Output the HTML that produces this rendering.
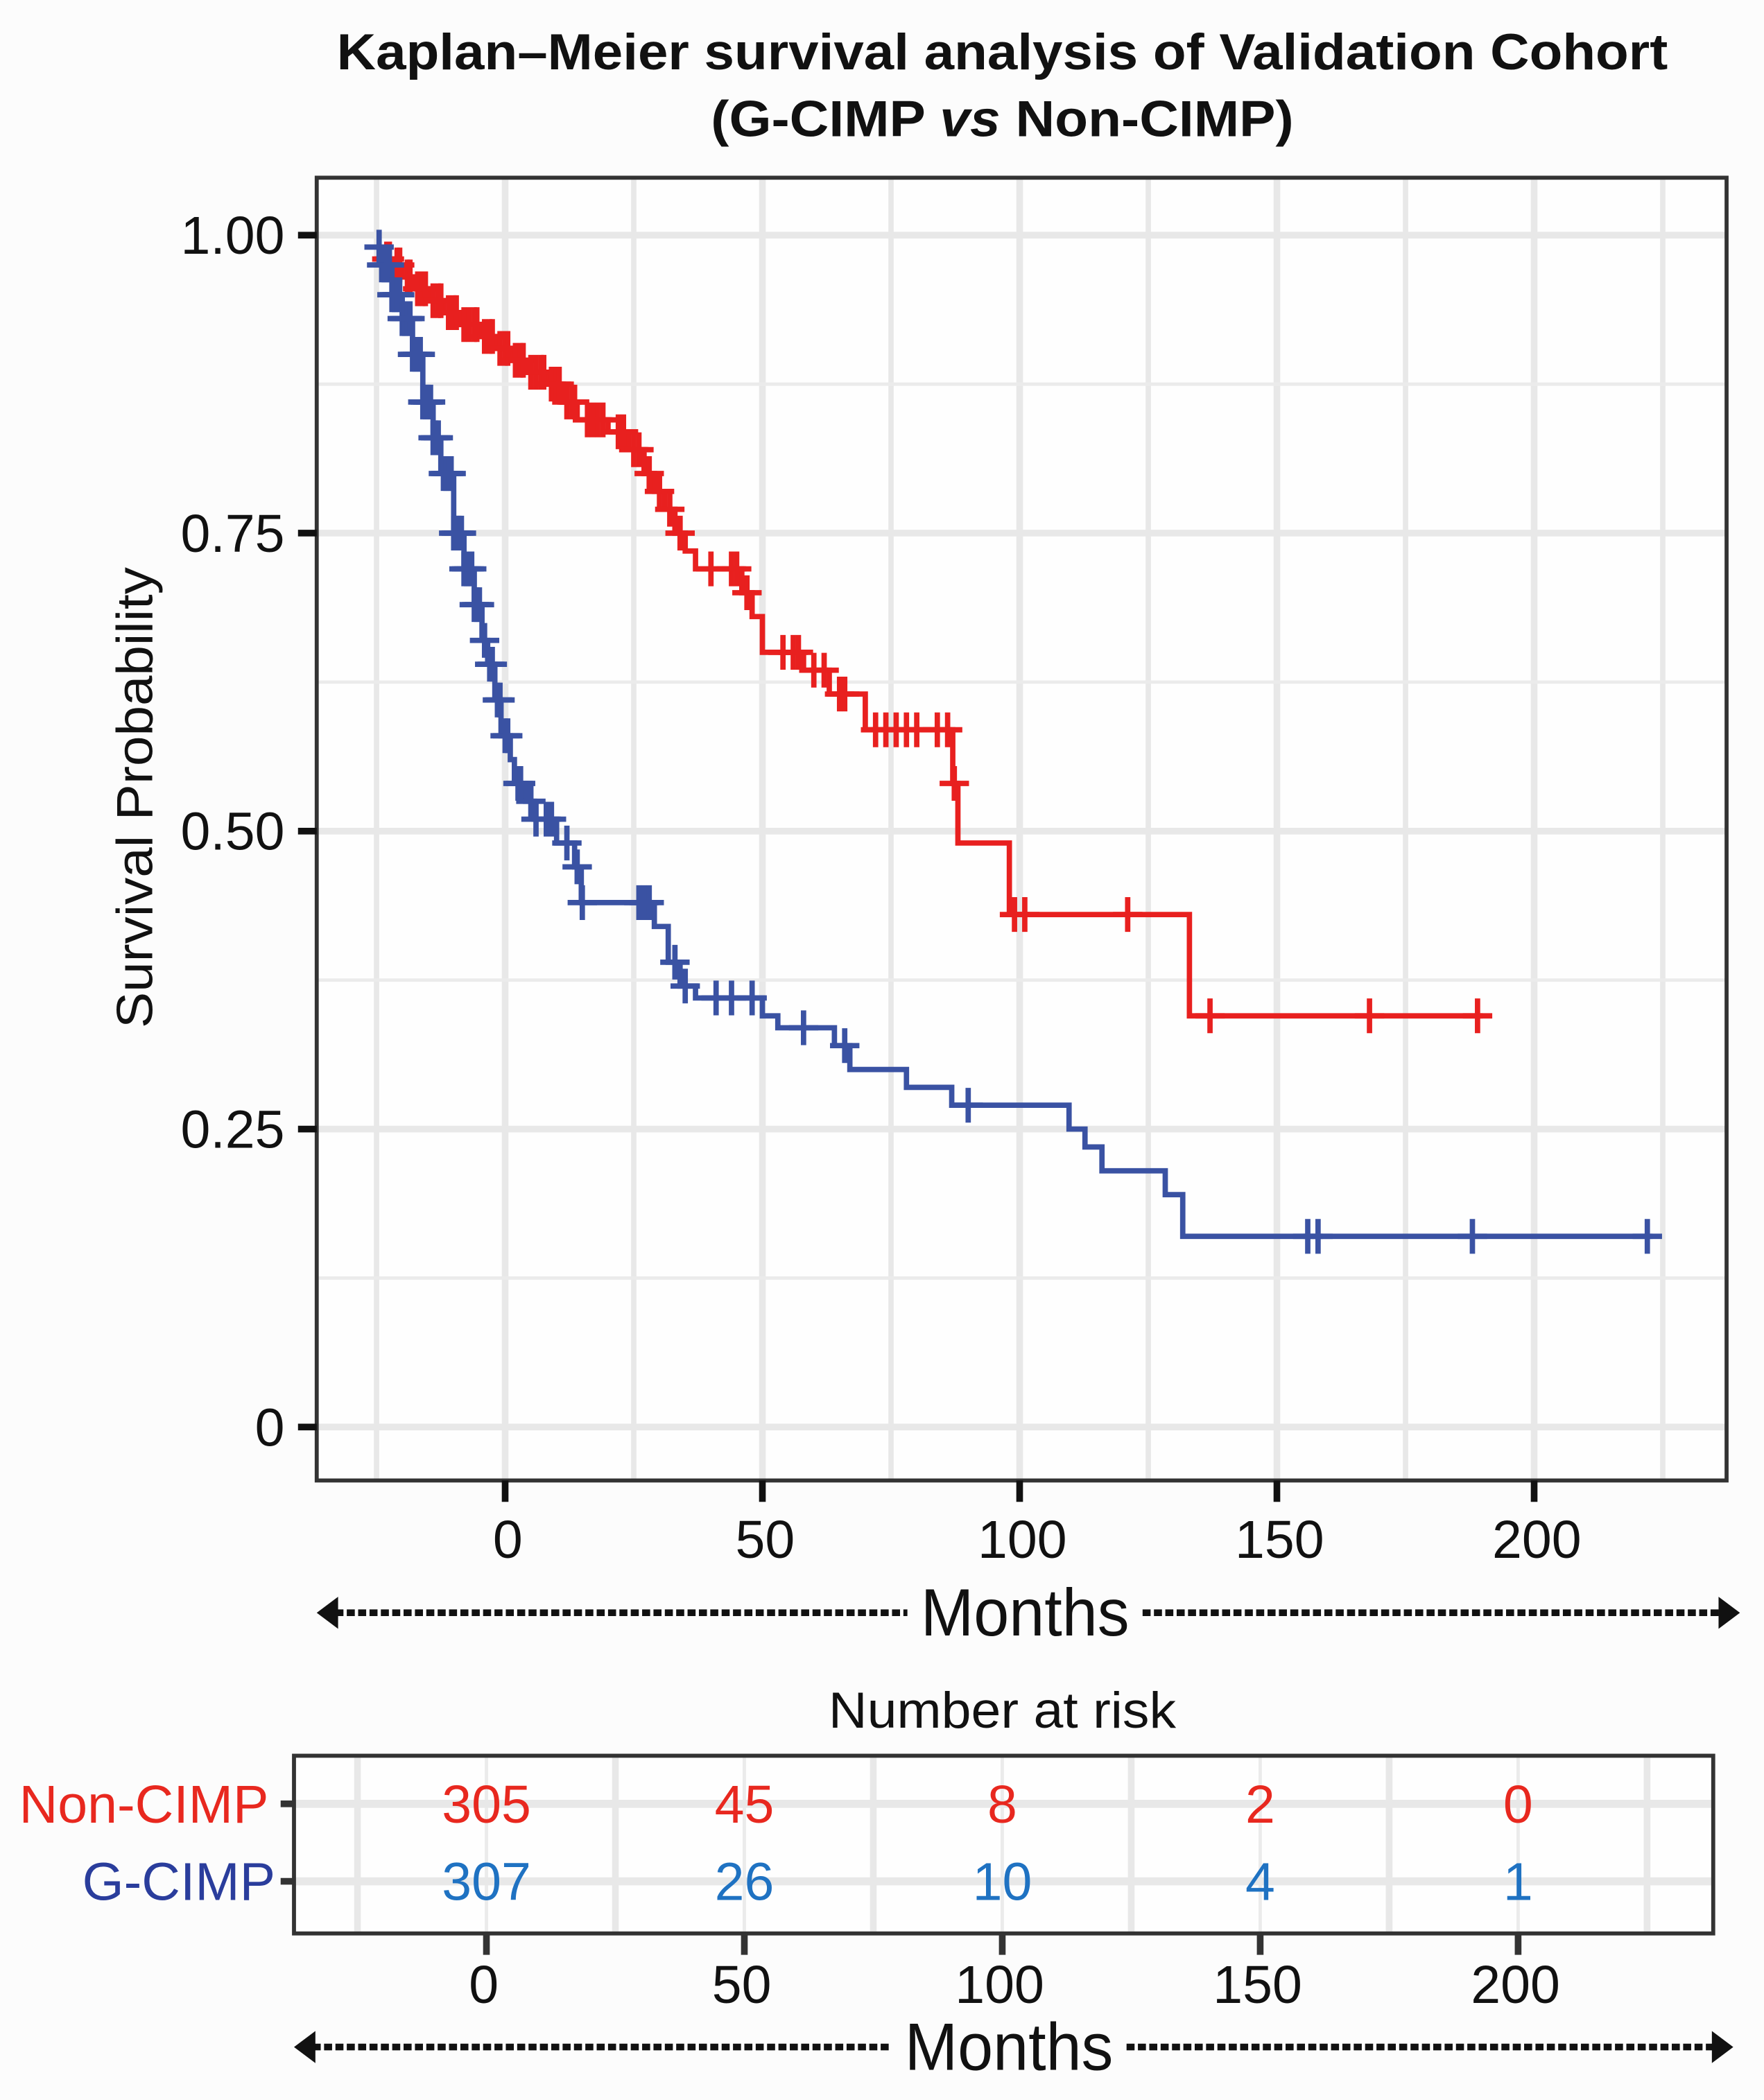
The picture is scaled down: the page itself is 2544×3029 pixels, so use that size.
<!DOCTYPE html>
<html><head><meta charset="utf-8"><style>
html,body{margin:0;padding:0;background:#fcfcfc;}
svg{display:block;font-family:"Liberation Sans",Arial,sans-serif;}
</style></head><body>
<svg id="chart" width="2544" height="3029" viewBox="0 0 1320 1571.65" xmlns="http://www.w3.org/2000/svg">
<rect x="0" y="0" width="1320" height="1572" fill="#fcfcfc"/>
<text x="750" y="52" text-anchor="middle" font-weight="bold" font-size="38" textLength="996" lengthAdjust="spacingAndGlyphs" fill="#111">Kaplan–Meier survival analysis of Validation Cohort</text>
<text x="750" y="102" text-anchor="middle" font-weight="bold" font-size="38" textLength="436" lengthAdjust="spacingAndGlyphs" fill="#111">(G-CIMP <tspan font-style="italic">vs</tspan> Non-CIMP)</text>
<g id="plot"></g>
<g id="risk"></g>
</svg>
<script>
// ---- data ----
const xTicks = [0, 50, 100, 150, 200];
const yTicks = [0, 0.25, 0.5, 0.75, 1.0];
const yTickLabels = ["0", "0.25", "0.50", "0.75", "1.00"];
const nonTimes = [-25,-24,-22,-20,-18,-15,-12,-9,-5,-2,1,4,8,11,14,20,24,27,29,31,33,35,37,46,48,50,58,63,70,87,88,98,133];
const nonSurv  = [0.985,0.98,0.975,0.965,0.955,0.945,0.935,0.925,0.915,0.905,0.895,0.885,0.875,0.86,0.845,0.835,0.82,0.80,0.785,0.77,0.75,0.735,0.72,0.70,0.68,0.65,0.635,0.615,0.585,0.54,0.49,0.43,0.345];
const nonEnd = 190;
const nonCensor = [-23,-22.5,-21,-20.5,-19,-18.5,-17,-16,-15.5,-14,-13,-12.5,-11,-10,-9.5,-8,-7,-6,-5.5,-4,-3,-2.5,-1,0,0.5,2,3,3.5,5,6,7,7.5,9,10,10.5,12,13,13.5,16,17,18,19,22,23,25,26,28,30,32,34,40,44,45,47,54,56,57,60,62,65,66,72,74,76,78,80,84,86,87.3,99,101,121,137,168,189];
const gTimes = [-25,-24,-22,-20,-18,-16,-14,-12.5,-10,-8,-6,-4.5,-3.4,-2,-0.8,1,1.8,4,5.7,10,13.5,14.8,29,31.7,34,37,50,53,64,67,78,86.8,109.6,112.7,116,128.3,131.7];
const gSurv  = [0.99,0.975,0.95,0.93,0.90,0.86,0.83,0.80,0.75,0.72,0.69,0.66,0.64,0.61,0.58,0.56,0.54,0.525,0.51,0.49,0.47,0.44,0.42,0.39,0.37,0.36,0.345,0.335,0.32,0.30,0.285,0.27,0.25,0.235,0.215,0.195,0.16];
const gEnd = 223;
const gCensor = [-24.5,-24,-23.5,-23,-22.5,-22,-21.5,-21,-20.5,-20,-19.5,-19,-18.5,-18,-17.5,-17,-16.5,-16,-15.5,-15,-14.5,-14,-13.5,-13,-12,-11.5,-11,-10.5,-10,-9.5,-9,-8.5,-8,-7.5,-7,-6.5,-6,-5.5,-5,-4,-3,-2.5,-1.5,-1,0,0.5,2.5,3,5,6,8,9,12,14,15,26,27,28,33,35,41,44,48,58,66,90,156,158,188,222];
const riskNon = [305, 45, 8, 2, 0];
const riskG = [307, 26, 10, 4, 1];
const groupNames = ["Non-CIMP", "G-CIMP"];

// ---- scales ----
const P = {l:237, t:133, r:1292, b:1108};
const xS = m => 378 + m * 3.85;
const yS = p => 1068 - p * 892;
const rX = m => 364 + m * 3.86;
const NS = "http://www.w3.org/2000/svg";
function mk(tag, attrs, parent, txt){
  const e = document.createElementNS(NS, tag);
  for (const k in attrs) e.setAttribute(k, attrs[k]);
  if (txt !== undefined) e.textContent = txt;
  parent.appendChild(e);
  return e;
}
const plot = document.getElementById('plot');
const risk = document.getElementById('risk');

let panel = mk('rect', {x:P.l, y:P.t, width:P.r-P.l, height:P.b-P.t, fill:'#fefefe'}, plot);


[-25,25,75,125,175,225].forEach(m => {
  const g = mk('line', {x1:xS(m), x2:xS(m), y1:P.t, y2:P.b, stroke:'#e8e8e8', 'stroke-width':4}, plot);
  
  
});
xTicks.forEach(m => {
  const g = mk('line', {x1:xS(m), x2:xS(m), y1:P.t, y2:P.b, stroke:'#e8e8e8', 'stroke-width':5}, plot);
  
  
});
[0.125,0.375,0.625,0.875].forEach(p => {
  const g = mk('line', {x1:P.l, x2:P.r, y1:yS(p), y2:yS(p), stroke:'#ebebeb', 'stroke-width':2.5}, plot);
  
  
});
yTicks.forEach(p => {
  const g = mk('line', {x1:P.l, x2:P.r, y1:yS(p), y2:yS(p), stroke:'#e8e8e8', 'stroke-width':5}, plot);
  
  
});

function stepPath(times, surv, end){
  let d = 'M' + xS(times[0]) + ',' + yS(surv[0]);
  for (let i = 1; i < times.length; i++){
    d += ' H' + xS(times[i]) + ' V' + yS(surv[i]);
  }
  d += ' H' + xS(end);
  return d;
}
function survAt(times, surv, t){
  let s = surv[0];
  for (let i = 0; i < times.length; i++) if (times[i] <= t) s = surv[i];
  return s;
}
function drawCurve(times, surv, end, cens, color, name){
  const p = mk('path', {d:stepPath(times, surv, end), fill:'none', stroke:color, 'stroke-width':4}, plot);
  
  
  cens.forEach(t => {
    const x = xS(t), y = yS(survAt(times, surv, t));
    const c = mk('path', {d:`M${x-11},${y} H${x+11} M${x},${y-13} V${y+13}`, stroke:color, 'stroke-width':4, fill:'none'}, plot);
    
    
  });
}
drawCurve(nonTimes, nonSurv, nonEnd, nonCensor, '#e8201f', 'non-cimp');
drawCurve(gTimes, gSurv, gEnd, gCensor, '#3a52a3', 'g-cimp');

let border = mk('rect', {x:P.l, y:P.t, width:P.r-P.l, height:P.b-P.t, fill:'none', stroke:'#333', 'stroke-width':3}, plot);



yTicks.forEach((p, i) => {
  const tk = mk('line', {x1:P.l-14, x2:P.l, y1:yS(p), y2:yS(p), stroke:'#111', 'stroke-width':5}, plot);
  
  
  const lb = mk('text', {x:213, y:yS(p)+14, 'text-anchor':'end', 'font-size':40, fill:'#111'}, plot, yTickLabels[i]);
  
  
});
xTicks.forEach(m => {
  const tk = mk('line', {x1:xS(m), x2:xS(m), y1:P.b, y2:P.b+16, stroke:'#111', 'stroke-width':5}, plot);
  
  
  const lb = mk('text', {x:xS(m)+2, y:1166, 'text-anchor':'middle', 'font-size':40, fill:'#111'}, plot, String(m));
  
  
});
let yt = mk('text', {x:0, y:0, 'text-anchor':'middle', 'font-size':38, textLength:345, lengthAdjust:'spacingAndGlyphs', fill:'#111', transform:'translate(114,597) rotate(-90)'}, plot, 'Survival Probability');



function monthsArrow(parent, x1, x2, y, cx, name){
  const l1 = mk('line', {x1:x1+14, x2:cx-84, y1:y, y2:y, stroke:'#111', 'stroke-width':5, 'stroke-dasharray':'6,2.5'}, parent);
  
  
  const l2 = mk('line', {x1:cx+92, x2:x2-14, y1:y, y2:y, stroke:'#111', 'stroke-width':5, 'stroke-dasharray':'6,2.5'}, parent);
  
  
  const a1 = mk('path', {d:`M${x1},${y} L${x1+16},${y-12} L${x1+16},${y+12}Z`, fill:'#111'}, parent);
  
  
  const a2 = mk('path', {d:`M${x2},${y} L${x2-16},${y-12} L${x2-16},${y+12}Z`, fill:'#111'}, parent);
  
  
  const t = mk('text', {x:cx+4, y:y+17, 'text-anchor':'middle', 'font-size':50, textLength:156, lengthAdjust:'spacingAndGlyphs', fill:'#111'}, parent, 'Months');
  
  
}
monthsArrow(plot, 237, 1302, 1207, 763, 'x-axis');

// ---- risk table ----
const R = {l:220, t:1314, r:1282, b:1447};
const rowY = [1350, 1408];
let rt = mk('text', {x:750, y:1293, 'text-anchor':'middle', 'font-size':38, textLength:260, lengthAdjust:'spacingAndGlyphs', fill:'#111'}, risk, 'Number at risk');


let rbg = mk('rect', {x:R.l, y:R.t, width:R.r-R.l, height:R.b-R.t, fill:'#fefefe'}, risk);


[-25,25,75,125,175,225].forEach(m => {
  const g = mk('line', {x1:rX(m), x2:rX(m), y1:R.t, y2:R.b, stroke:'#e8e8e8', 'stroke-width':5}, risk);
  
  
});
xTicks.forEach(m => {
  const g = mk('line', {x1:rX(m), x2:rX(m), y1:R.t, y2:R.b, stroke:'#ebebeb', 'stroke-width':2.5}, risk);
  
  
});
rowY.forEach(y => {
  const g = mk('line', {x1:R.l, x2:R.r, y1:y, y2:y, stroke:'#e8e8e8', 'stroke-width':6}, risk);
  
  
});
[riskNon, riskG].forEach((arr, r) => {
  arr.forEach((v, i) => {
    const t = mk('text', {x:rX(xTicks[i]), y:rowY[r]+14, 'text-anchor':'middle', 'font-size':40, fill: r===0 ? '#e8281f' : '#1f72c2'}, risk, String(v));
    
    
  });
});
let rb = mk('rect', {x:R.l, y:R.t, width:R.r-R.l, height:R.b-R.t, fill:'none', stroke:'#333', 'stroke-width':3}, risk);


groupNames.forEach((g, r) => {
  const tk = mk('line', {x1:R.l-10, x2:R.l, y1:rowY[r], y2:rowY[r], stroke:'#333', 'stroke-width':5}, risk);
  
  
  const t = mk('text', {x: r===0 ? 201 : 206, y:rowY[r]+14, 'text-anchor':'end', 'font-size':40, fill: r===0 ? '#e8281f' : '#2a3d9c'}, risk, g);
  
  
});
xTicks.forEach(m => {
  const tk = mk('line', {x1:rX(m), x2:rX(m), y1:R.b, y2:R.b+16, stroke:'#333', 'stroke-width':5}, risk);
  
  
  const lb = mk('text', {x:rX(m)-2, y:1499, 'text-anchor':'middle', 'font-size':40, fill:'#111'}, risk, String(m));
  
  
});
monthsArrow(risk, 220, 1297, 1532, 751, 'risk-x-axis');
</script>
</body></html>
